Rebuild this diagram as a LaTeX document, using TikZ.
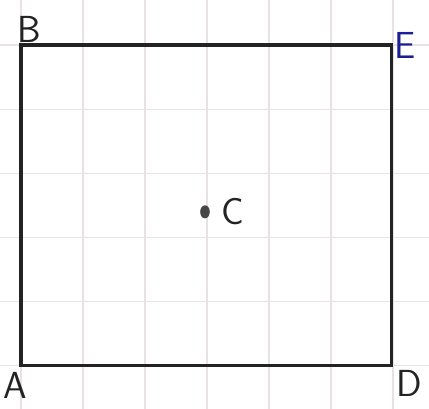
\documentclass[tikz,border=0pt]{standalone}
\usepackage{tikz}
\usetikzlibrary{positioning,shapes.geometric}
\definecolor{gridL}{RGB}{232,226,230}
\definecolor{penK}{RGB}{35,35,35}
\definecolor{penB}{RGB}{28,30,150}

\begin{document}
\begin{tikzpicture}[x=1cm, y=1.035cm,
  font=\LARGE\sffamily,
  edge/.style={draw=penK, line width=1.4pt},
  lab/.style={inner sep=0pt, text=penK},
  dot/.style={ellipse, fill=gray!55!black, inner sep=0pt, minimum width=4.4pt, minimum height=6pt}
]
\useasboundingbox (0,0) rectangle (6.919,6.371);
% grid paper
\foreach \k in {0,...,6}
  \draw[gridL, line width=0.5pt] ({0.339+\k},0) -- ({0.339+\k},6.371);
\foreach \k in {0,...,5}
  \draw[gridL, line width=0.5pt] (0,{0.67+\k}) -- (6.919,{0.67+\k});
% corners
\coordinate (A) at (0.339,0.67);
\coordinate (B) at (0.339,5.67);
\coordinate (E) at (6.32,5.67);
\coordinate (D) at (6.32,0.67);
\draw[edge] (A) -- (B) -- (E) -- (D) -- cycle;
% labels
\node[lab, above right=1pt and -2pt of B] (lB) {B};
\node[lab, right=1pt of E, text=penB] (lE) {E};
\node[lab, below left=3pt and -3pt of A] (lA) {A};
\node[lab, below right=2pt and 2pt of D] (lD) {D};
% centre point
\node[dot] (c) at (3.306,3.07) {};
\node[lab, right=5pt of c] (lC) {C};
\end{tikzpicture}
\end{document}
